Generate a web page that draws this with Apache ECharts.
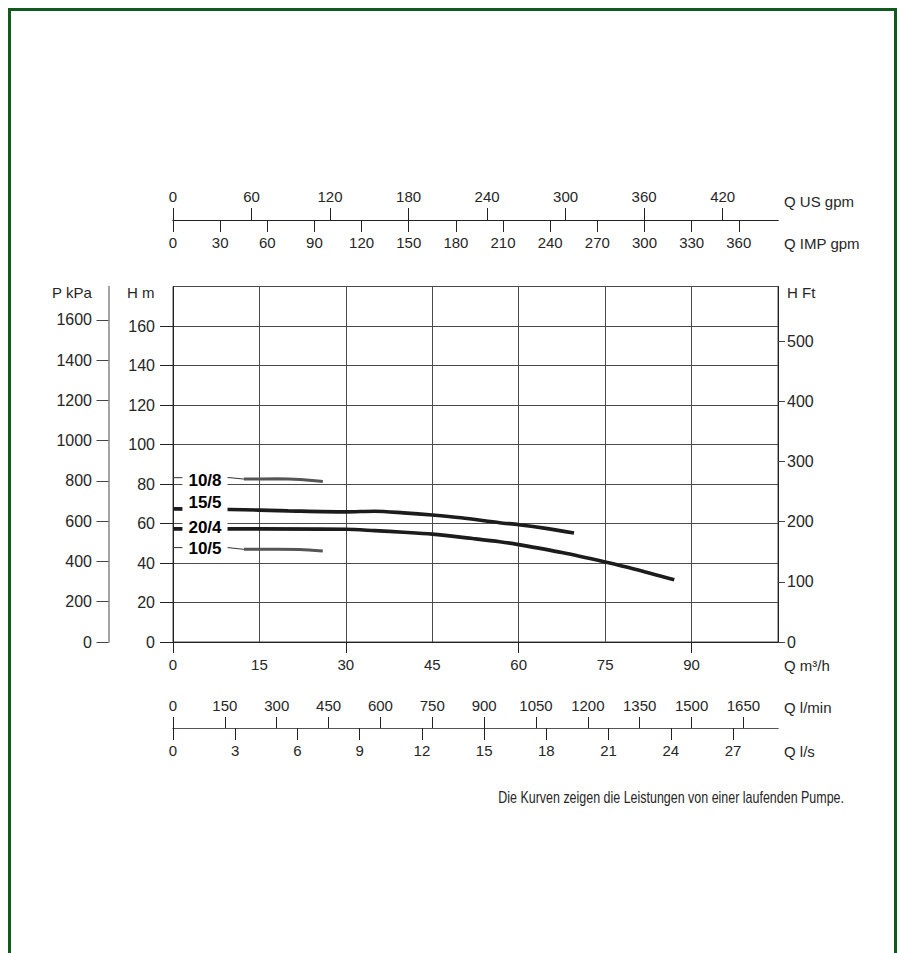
<!DOCTYPE html>
<html>
<head>
<meta charset="utf-8">
<script src="https://cdn.jsdelivr.net/npm/echarts@6/dist/echarts.min.js"></script>
<style>
html,body{margin:0;padding:0;background:#fff;}
#chart{width:901px;height:953px;}
</style>
</head>
<body>
<div id="chart"></div>
<script>
// ---- Data (Q in m3/h, H in m) ----
const curve10_8 = [[12.3, 82.5], [18, 82.6], [22, 82.3], [26, 81.3]];
const leader10_8 = [[0, 83.2], [9.9, 83.2], [12.3, 82.5]];
const curve15_5 = [[0, 67.4], [10, 67.1], [20, 66.4], [30, 65.9], [35, 66.2], [40, 65.4], [45, 64.3], [50, 62.9], [56.7, 60.4], [60, 59.4], [65, 57.4], [69.6, 55.2]];
const curve20_4 = [[0, 57.3], [15, 57.3], [30, 57.1], [35, 56.4], [40, 55.6], [45, 54.6], [52, 52.4], [56.7, 50.8], [60, 49.3], [67.5, 45.3], [75, 40.5], [80, 37.0], [87, 31.5]];
const curve10_5 = [[12.3, 46.9], [18, 47.0], [22, 46.8], [26, 46.1]];
const leader10_5 = [[0, 47.8], [9.5, 47.8], [12.3, 46.9]];
const curveNames = ['10/8', '15/5', '20/4', '10/5'];
const curveNameH = [82.0, 70.4, 57.9, 47.4];
const curveNameQ = 5.55;

// ---- Tick labels ----
const ticksQm3h = [0, 15, 30, 45, 60, 75, 90];
const ticksQm3hMarked = [0, 30, 60, 90];
const ticksUSgpm = [0, 60, 120, 180, 240, 300, 360, 420];
const ticksIMPgpm = [0, 30, 60, 90, 120, 150, 180, 210, 240, 270, 300, 330, 360];
const ticksLmin = [0, 150, 300, 450, 600, 750, 900, 1050, 1200, 1350, 1500, 1650];
const ticksLs = [0, 3, 6, 9, 12, 15, 18, 21, 24, 27];
const ticksHm = [0, 20, 40, 60, 80, 100, 120, 140, 160];
const ticksKPa = [0, 200, 400, 600, 800, 1000, 1200, 1400, 1600];
const ticksFt = [0, 100, 200, 300, 400, 500];

// ---- Scale ranges / unit conversions ----
const Q_MAX = 105, H_MAX = 180;
const TO_USGPM = 4.40287, TO_IMPGPM = 3.66615, TO_LMIN = 1000 / 60, TO_LS = 1 / 3.6;
const TO_KPA = 9.81, TO_FT = 1 / 0.3048;

const REG = '"Liberation Sans", Arial, sans-serif';
const TXT = '#262626';
const GRIDC = '#4a4a4a';
const plain = v => String(v);

const chart = echarts.init(document.getElementById('chart'), null, {renderer: 'svg'});

function valueAxis(o) {
  return Object.assign({type: 'value', gridIndex: 0, splitLine: {show: false}}, o);
}
function line(color, width) {
  return {show: true, onZero: false, lineStyle: {color: color, width: width}};
}
const labX = {color: TXT, fontFamily: REG, fontSize: 15, formatter: plain};
const labY = {color: TXT, fontFamily: REG, fontSize: 16, formatter: plain};

const option = {
  animation: false,
  backgroundColor: '#fff',
  grid: [{left: 173, top: 286.5, width: 605, height: 355.5, containLabel: false,
    show: true, borderColor: GRIDC, borderWidth: 1, backgroundColor: 'transparent'}],
  xAxis: [
    // main Q m3/h axis with vertical grid lines
    valueAxis({position: 'bottom', min: 0, max: Q_MAX, interval: 15,
      axisLine: line('#222', 1),
      axisTick: {show: false},
      axisLabel: Object.assign({margin: 15, customValues: ticksQm3h}, labX),
      splitLine: {show: true, lineStyle: {color: GRIDC, width: 1}}}),
    // outward ticks on the main axis every 30 m3/h
    valueAxis({position: 'bottom', min: 0, max: Q_MAX, interval: 30,
      axisLine: {show: false, onZero: false},
      axisTick: {show: true, length: 11, customValues: ticksQm3hMarked, lineStyle: {color: '#222'}},
      axisLabel: {show: false}}),
    valueAxis({position: 'top', offset: 66.5, min: 0, max: Q_MAX * TO_USGPM, interval: 60,
      axisLine: line('#222', 1),
      axisTick: {show: true, length: 12, customValues: ticksUSgpm, lineStyle: {color: '#222'}},
      axisLabel: Object.assign({margin: 16, customValues: ticksUSgpm}, labX)}),
    valueAxis({position: 'top', offset: 66.5, min: 0, max: Q_MAX * TO_IMPGPM, interval: 30,
      axisLine: line('#222', 1),
      axisTick: {show: true, inside: true, length: 12, customValues: ticksIMPgpm, lineStyle: {color: '#222'}},
      axisLabel: Object.assign({inside: true, margin: 15, customValues: ticksIMPgpm}, labX)}),
    valueAxis({position: 'bottom', offset: 86, min: 0, max: Q_MAX * TO_LMIN, interval: 150,
      axisLine: line('#555', 1),
      axisTick: {show: true, inside: true, length: 11, customValues: ticksLmin, lineStyle: {color: '#222'}},
      axisLabel: Object.assign({inside: true, margin: 15, customValues: ticksLmin}, labX)}),
    valueAxis({position: 'bottom', offset: 86, min: 0, max: Q_MAX * TO_LS, interval: 3,
      axisLine: line('#555', 1),
      axisTick: {show: true, length: 12, customValues: ticksLs, lineStyle: {color: '#222'}},
      axisLabel: Object.assign({margin: 15, customValues: ticksLs}, labX)})
  ],
  yAxis: [
    valueAxis({position: 'left', min: 0, max: H_MAX, interval: 20,
      axisLine: line('#222', 1),
      axisTick: {show: true, length: 13, customValues: ticksHm, lineStyle: {color: '#222'}},
      axisLabel: Object.assign({margin: 18, customValues: ticksHm}, labY),
      splitLine: {show: true, lineStyle: {color: GRIDC, width: 1}}}),
    valueAxis({position: 'left', offset: 64.5, min: 0, max: H_MAX * TO_KPA, interval: 200,
      axisLine: line('#888', 1.5),
      axisTick: {show: true, length: 12, customValues: ticksKPa, lineStyle: {color: '#444'}},
      axisLabel: Object.assign({margin: 16.5, customValues: ticksKPa}, labY)}),
    valueAxis({position: 'right', min: 0, max: H_MAX * TO_FT, interval: 100,
      axisLine: line('#222', 1),
      axisTick: {show: true, length: 7, customValues: ticksFt, lineStyle: {color: '#444'}},
      axisLabel: Object.assign({margin: 9, customValues: ticksFt}, labY)})
  ],
  series: [
    {type: 'line', name: '10/8 leader', data: leader10_8, showSymbol: false, silent: true, z: 3,
      lineStyle: {color: '#333', width: 1}},
    {type: 'line', name: '10/5 leader', data: leader10_5, showSymbol: false, silent: true, z: 3,
      lineStyle: {color: '#333', width: 1}},
    {type: 'line', name: '10/8', data: curve10_8, showSymbol: false, smooth: 0.3, silent: true, z: 4,
      lineStyle: {color: '#555', width: 3, cap: 'butt'}},
    {type: 'line', name: '15/5', data: curve15_5, showSymbol: false, smooth: 0.3, silent: true, z: 4,
      lineStyle: {color: '#1c1c1c', width: 3.6, cap: 'butt'}},
    {type: 'line', name: '20/4', data: curve20_4, showSymbol: false, smooth: 0.3, silent: true, z: 4,
      lineStyle: {color: '#1c1c1c', width: 3.6, cap: 'butt'}},
    {type: 'line', name: '10/5', data: curve10_5, showSymbol: false, smooth: 0.3, silent: true, z: 4,
      lineStyle: {color: '#555', width: 3, cap: 'butt'}},
    {type: 'scatter', name: 'labels', silent: true, z: 10, symbolSize: 1,
      itemStyle: {color: 'rgba(255,255,255,0)', opacity: 1},
      data: curveNameH.map((h, i) => [curveNameQ, h, curveNames[i]]),
      label: {show: true, position: 'inside', formatter: p => p.data[2], opacity: 1,
        color: '#000', fontFamily: REG, fontWeight: 'bold', fontSize: 17,
        textBorderWidth: 0, backgroundColor: '#fff', padding: [2, 6, 1, 6]}}
  ],
  graphic: [
    {type: 'rect', silent: true, z: 100, shape: {x: 9.5, y: 9.5, width: 886, height: 990},
      style: {fill: 'none', stroke: '#11591f', lineWidth: 3}},
    {type: 'text', x: 52, y: 292, silent: true, style: {text: 'P kPa', font: '15px ' + REG, fill: TXT, align: 'left', verticalAlign: 'middle'}},
    {type: 'text', x: 127, y: 292, silent: true, style: {text: 'H m', font: '15px ' + REG, fill: TXT, align: 'left', verticalAlign: 'middle'}},
    {type: 'text', x: 787, y: 292, silent: true, style: {text: 'H Ft', font: '15px ' + REG, fill: TXT, align: 'left', verticalAlign: 'middle'}},
    {type: 'text', x: 784, y: 201, silent: true, style: {text: 'Q US gpm', font: '15px ' + REG, fill: TXT, align: 'left', verticalAlign: 'middle'}},
    {type: 'text', x: 784, y: 243, silent: true, style: {text: 'Q IMP gpm', font: '15px ' + REG, fill: TXT, align: 'left', verticalAlign: 'middle'}},
    {type: 'text', x: 784, y: 665, silent: true, style: {text: 'Q m³/h', font: '15px ' + REG, fill: TXT, align: 'left', verticalAlign: 'middle'}},
    {type: 'text', x: 784, y: 707, silent: true, style: {text: 'Q l/min', font: '15px ' + REG, fill: TXT, align: 'left', verticalAlign: 'middle'}},
    {type: 'text', x: 784, y: 751, silent: true, style: {text: 'Q l/s', font: '15px ' + REG, fill: TXT, align: 'left', verticalAlign: 'middle'}},
    {type: 'text', x: 844, y: 797, scaleX: 0.78, silent: true, style: {text: 'Die Kurven zeigen die Leistungen von einer laufenden Pumpe.', font: '16px ' + REG, fill: TXT, align: 'right', verticalAlign: 'middle'}}
  ]
};
chart.setOption(option);
</script>
</body>
</html>
